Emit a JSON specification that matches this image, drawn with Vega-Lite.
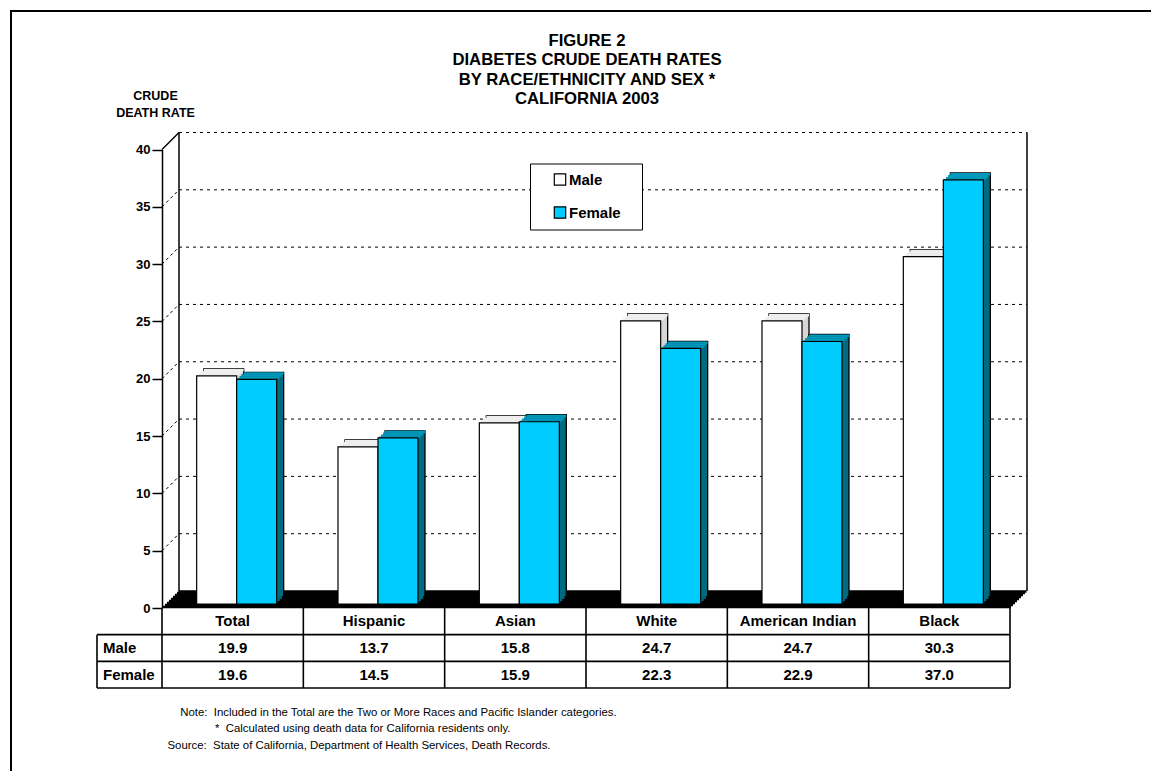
{
  "$schema": "https://vega.github.io/schema/vega-lite/v6.json",
  "width": 1160,
  "height": 780,
  "autosize": "none",
  "padding": {"left": 11, "top": 11, "right": 0, "bottom": 0},
  "background": "white",
  "config": {
    "font": "Liberation Sans",
    "view": {"stroke": "black", "strokeWidth": 2},
    "text": {"color": "black"}
  },
  "title": {
    "text": ["FIGURE 2", "DIABETES CRUDE DEATH RATES", "BY RACE/ETHNICITY AND SEX *", "CALIFORNIA 2003"],
    "font": "Liberation Sans",
    "fontSize": 16.7,
    "fontWeight": "bold",
    "color": "black",
    "anchor": "middle",
    "frame": "group",
    "lineHeight": 19.5,
    "offset": -97,
    "dx": -4
  },
  "datasets": {
    "main": [
      {"race": "Total", "male": 19.9, "female": 19.6},
      {"race": "Hispanic", "male": 13.7, "female": 14.5},
      {"race": "Asian", "male": 15.8, "female": 15.9},
      {"race": "White", "male": 24.7, "female": 22.3},
      {"race": "American Indian", "male": 24.7, "female": 22.9},
      {"race": "Black", "male": 30.3, "female": 37.0}
    ],
    "grid": [{"v": 5}, {"v": 10}, {"v": 15}, {"v": 20}, {"v": 25}, {"v": 30}, {"v": 35}, {"v": 40}],
    "rows": [{"row": "Male"}, {"row": "Female"}],
    "one": [{}]
  },
  "data": {"name": "main"},
  "resolve": {"scale": {"y": "independent"}},
  "layer": [
    {
      "layer": [
        {
          "data": {"name": "grid"},
          "mark": {"type": "rule", "stroke": "black", "strokeWidth": 1, "strokeDash": [3, 4], "xOffset": 17, "x2Offset": 17, "yOffset": -17},
          "encoding": {
            "x": {
              "datum": "Total", "type": "nominal", "bandPosition": 0,
              "scale": {"type": "band", "domain": ["Total", "Hispanic", "Asian", "White", "American Indian", "Black"], "range": [151, 999], "paddingInner": 0, "paddingOuter": 0},
              "axis": {
                "orient": "bottom", "labels": false, "ticks": false, "domain": false, "grid": false,
                "title": [
                  "\u200b\u00a0\u00a0\u00a0\u00a0Note:\u00a0\u00a0Included in the Total are the Two or More Races and Pacific Islander categories.",
                  "\u200b\u00a0\u00a0\u00a0\u00a0\u00a0\u00a0\u00a0\u00a0\u00a0\u00a0\u00a0\u00a0\u00a0\u00a0\u00a0*\u00a0\u00a0Calculated using death data for California residents only.",
                  "Source:\u00a0\u00a0State of California, Department of Health Services, Death Records."
                ],
                "titleX": 156, "titleY": -75.3, "titleAlign": "left", "titleAnchor": "start", "titleBaseline": "alphabetic",
                "titleFont": "Liberation Sans", "titleFontSize": 11.4, "titleFontWeight": "normal", "titleColor": "black", "titleLineHeight": 16.3
              }
            },
            "x2": {"datum": "Black", "bandPosition": 1},
            "y": {
              "field": "v", "type": "quantitative",
              "scale": {"domain": [0, 40], "range": [597, 138.5], "nice": false, "zero": true},
              "axis": {
                "orient": "left", "offset": -151, "values": [0, 5, 10, 15, 20, 25, 30, 35, 40], "grid": false,
                "domainColor": "black", "domainWidth": 1.5, "tickColor": "black", "tickWidth": 1.5, "tickSize": 10,
                "labelFont": "Liberation Sans", "labelFontSize": 13, "labelFontWeight": "bold", "labelColor": "black", "labelPadding": 2, "labelOverlap": false,
                "title": ["CRUDE", "DEATH RATE"], "titleAngle": 0, "titleAlign": "center", "titleBaseline": "alphabetic",
                "titleX": -7, "titleY": 88.5, "titleFont": "Liberation Sans", "titleFontSize": 12.5, "titleFontWeight": "bold", "titleColor": "black", "titleLineHeight": 17
              }
            }
          }
        },
        {
          "data": {"name": "grid"},
          "transform": [{"filter": "datum.v < 40"}],
          "mark": {"type": "rule", "stroke": "black", "strokeWidth": 1, "strokeDash": [3, 3], "x2Offset": 17, "y2Offset": -17},
          "encoding": {
            "x": {"datum": "Total", "type": "nominal", "bandPosition": 0},
            "x2": {"datum": "Total", "bandPosition": 0},
            "y": {"field": "v", "type": "quantitative"},
            "y2": {"field": "v"}
          }
        },
        {
          "data": {"name": "one"},
          "mark": {"type": "rule", "stroke": "black", "strokeWidth": 1.5, "x2Offset": 17, "y2Offset": -17},
          "encoding": {
            "x": {"datum": "Total", "type": "nominal", "bandPosition": 0},
            "x2": {"datum": "Total", "bandPosition": 0},
            "y": {"datum": 40, "type": "quantitative"},
            "y2": {"datum": 40}
          }
        },
        {
          "data": {"name": "one"},
          "mark": {"type": "rule", "stroke": "black", "strokeWidth": 1.5, "xOffset": 17, "yOffset": -17, "y2Offset": -17},
          "encoding": {
            "x": {"datum": "Total", "type": "nominal", "bandPosition": 0},
            "y": {"datum": 0, "type": "quantitative"},
            "y2": {"datum": 40}
          }
        },
        {
          "data": {"name": "one"},
          "mark": {"type": "rule", "stroke": "black", "strokeWidth": 1.5, "xOffset": 17, "yOffset": -17, "y2Offset": -17},
          "encoding": {
            "x": {"datum": "Black", "type": "nominal", "bandPosition": 1},
            "y": {"datum": 0, "type": "quantitative"},
            "y2": {"datum": 40}
          }
        },
        {"data": {"name": "one"}, "mark": {"type": "rule", "stroke": "black", "strokeWidth": 2.4, "xOffset": 1, "x2Offset": 1, "yOffset": -1},
          "encoding": {"x": {"datum": "Total", "type": "nominal", "bandPosition": 0}, "x2": {"datum": "Black", "bandPosition": 1}, "y": {"datum": 0, "type": "quantitative"}}},
        {"data": {"name": "one"}, "mark": {"type": "rule", "stroke": "black", "strokeWidth": 2.4, "xOffset": 3, "x2Offset": 3, "yOffset": -3},
          "encoding": {"x": {"datum": "Total", "type": "nominal", "bandPosition": 0}, "x2": {"datum": "Black", "bandPosition": 1}, "y": {"datum": 0, "type": "quantitative"}}},
        {"data": {"name": "one"}, "mark": {"type": "rule", "stroke": "black", "strokeWidth": 2.4, "xOffset": 5, "x2Offset": 5, "yOffset": -5},
          "encoding": {"x": {"datum": "Total", "type": "nominal", "bandPosition": 0}, "x2": {"datum": "Black", "bandPosition": 1}, "y": {"datum": 0, "type": "quantitative"}}},
        {"data": {"name": "one"}, "mark": {"type": "rule", "stroke": "black", "strokeWidth": 2.4, "xOffset": 7, "x2Offset": 7, "yOffset": -7},
          "encoding": {"x": {"datum": "Total", "type": "nominal", "bandPosition": 0}, "x2": {"datum": "Black", "bandPosition": 1}, "y": {"datum": 0, "type": "quantitative"}}},
        {"data": {"name": "one"}, "mark": {"type": "rule", "stroke": "black", "strokeWidth": 2.4, "xOffset": 9, "x2Offset": 9, "yOffset": -9},
          "encoding": {"x": {"datum": "Total", "type": "nominal", "bandPosition": 0}, "x2": {"datum": "Black", "bandPosition": 1}, "y": {"datum": 0, "type": "quantitative"}}},
        {"data": {"name": "one"}, "mark": {"type": "rule", "stroke": "black", "strokeWidth": 2.4, "xOffset": 11, "x2Offset": 11, "yOffset": -11},
          "encoding": {"x": {"datum": "Total", "type": "nominal", "bandPosition": 0}, "x2": {"datum": "Black", "bandPosition": 1}, "y": {"datum": 0, "type": "quantitative"}}},
        {"data": {"name": "one"}, "mark": {"type": "rule", "stroke": "black", "strokeWidth": 2.4, "xOffset": 13, "x2Offset": 13, "yOffset": -13},
          "encoding": {"x": {"datum": "Total", "type": "nominal", "bandPosition": 0}, "x2": {"datum": "Black", "bandPosition": 1}, "y": {"datum": 0, "type": "quantitative"}}},
        {"data": {"name": "one"}, "mark": {"type": "rule", "stroke": "black", "strokeWidth": 2.4, "xOffset": 15, "x2Offset": 15, "yOffset": -15},
          "encoding": {"x": {"datum": "Total", "type": "nominal", "bandPosition": 0}, "x2": {"datum": "Black", "bandPosition": 1}, "y": {"datum": 0, "type": "quantitative"}}},
        {"data": {"name": "one"}, "mark": {"type": "rule", "stroke": "black", "strokeWidth": 2.4, "xOffset": 16.5, "x2Offset": 16.5, "yOffset": -16.5},
          "encoding": {"x": {"datum": "Total", "type": "nominal", "bandPosition": 0}, "x2": {"datum": "Black", "bandPosition": 1}, "y": {"datum": 0, "type": "quantitative"}}},

        {"mark": {"type": "bar", "width": 40, "xOffset": -9, "yOffset": -11, "y2Offset": -11, "fill": "#D6D6D6", "stroke": "black", "strokeWidth": 1.3},
          "encoding": {"x": {"field": "race", "type": "nominal"}, "y": {"field": "male", "type": "quantitative"}, "y2": {"datum": 0}}},
        {"mark": {"type": "bar", "width": 40, "xOffset": -9, "yOffset": -11, "y2Offset": -8.5, "fill": "#EEEEEE"},
          "encoding": {"x": {"field": "race", "type": "nominal"}, "y": {"field": "male", "type": "quantitative"}, "y2": {"field": "male"}}},
        {"mark": {"type": "bar", "width": 40, "xOffset": -11, "yOffset": -9, "y2Offset": -9, "fill": "#D6D6D6"},
          "encoding": {"x": {"field": "race", "type": "nominal"}, "y": {"field": "male", "type": "quantitative"}, "y2": {"datum": 0}}},
        {"mark": {"type": "bar", "width": 40, "xOffset": -11, "yOffset": -9, "y2Offset": -6.5, "fill": "#EEEEEE"},
          "encoding": {"x": {"field": "race", "type": "nominal"}, "y": {"field": "male", "type": "quantitative"}, "y2": {"field": "male"}}},
        {"mark": {"type": "bar", "width": 40, "xOffset": -13, "yOffset": -7, "y2Offset": -7, "fill": "#D6D6D6"},
          "encoding": {"x": {"field": "race", "type": "nominal"}, "y": {"field": "male", "type": "quantitative"}, "y2": {"datum": 0}}},
        {"mark": {"type": "bar", "width": 40, "xOffset": -13, "yOffset": -7, "y2Offset": -4.5, "fill": "#EEEEEE"},
          "encoding": {"x": {"field": "race", "type": "nominal"}, "y": {"field": "male", "type": "quantitative"}, "y2": {"field": "male"}}},
        {"mark": {"type": "bar", "width": 40, "xOffset": -15, "yOffset": -5, "y2Offset": -5, "fill": "#D6D6D6"},
          "encoding": {"x": {"field": "race", "type": "nominal"}, "y": {"field": "male", "type": "quantitative"}, "y2": {"datum": 0}}},
        {"mark": {"type": "bar", "width": 40, "xOffset": -15, "yOffset": -5, "y2Offset": -2.5, "fill": "#EEEEEE"},
          "encoding": {"x": {"field": "race", "type": "nominal"}, "y": {"field": "male", "type": "quantitative"}, "y2": {"field": "male"}}},
        {"mark": {"type": "bar", "width": 40, "xOffset": -16, "yOffset": -4, "y2Offset": -4, "stroke": "black", "strokeWidth": 1.2},
          "encoding": {
            "x": {"field": "race", "type": "nominal"},
            "y": {"field": "male", "type": "quantitative"},
            "y2": {"datum": 0},
            "color": {
              "datum": "Male", "type": "nominal",
              "scale": {"domain": ["Male", "Female"], "range": ["#FFFFFF", "#00CCFF"]},
              "legend": {
                "orient": "none", "legendX": 519, "legendY": 152.5, "title": null,
                "fillColor": "white", "strokeColor": "black", "padding": 8.5,
                "symbolType": "square", "symbolSize": 130, "symbolStrokeColor": "black", "symbolStrokeWidth": 1.2, "symbolOffset": 14,
                "labelFont": "Liberation Sans", "labelFontSize": 15, "labelFontWeight": "bold", "labelColor": "black", "labelOffset": 1.5,
                "rowPadding": 16,
                "labelExpr": "datum.label + '\u00a0\u00a0\u00a0\u200b'"
              }
            }
          }
        },

        {"mark": {"type": "bar", "width": 40, "xOffset": 31, "yOffset": -11, "y2Offset": -11, "fill": "#006A80", "stroke": "black", "strokeWidth": 1.3},
          "encoding": {"x": {"field": "race", "type": "nominal"}, "y": {"field": "female", "type": "quantitative"}, "y2": {"datum": 0}}},
        {"mark": {"type": "bar", "width": 40, "xOffset": 31, "yOffset": -11, "y2Offset": -8.5, "fill": "#0099BB"},
          "encoding": {"x": {"field": "race", "type": "nominal"}, "y": {"field": "female", "type": "quantitative"}, "y2": {"field": "female"}}},
        {"mark": {"type": "bar", "width": 40, "xOffset": 29, "yOffset": -9, "y2Offset": -9, "fill": "#006A80"},
          "encoding": {"x": {"field": "race", "type": "nominal"}, "y": {"field": "female", "type": "quantitative"}, "y2": {"datum": 0}}},
        {"mark": {"type": "bar", "width": 40, "xOffset": 29, "yOffset": -9, "y2Offset": -6.5, "fill": "#0099BB"},
          "encoding": {"x": {"field": "race", "type": "nominal"}, "y": {"field": "female", "type": "quantitative"}, "y2": {"field": "female"}}},
        {"mark": {"type": "bar", "width": 40, "xOffset": 27, "yOffset": -7, "y2Offset": -7, "fill": "#006A80"},
          "encoding": {"x": {"field": "race", "type": "nominal"}, "y": {"field": "female", "type": "quantitative"}, "y2": {"datum": 0}}},
        {"mark": {"type": "bar", "width": 40, "xOffset": 27, "yOffset": -7, "y2Offset": -4.5, "fill": "#0099BB"},
          "encoding": {"x": {"field": "race", "type": "nominal"}, "y": {"field": "female", "type": "quantitative"}, "y2": {"field": "female"}}},
        {"mark": {"type": "bar", "width": 40, "xOffset": 25, "yOffset": -5, "y2Offset": -5, "fill": "#006A80"},
          "encoding": {"x": {"field": "race", "type": "nominal"}, "y": {"field": "female", "type": "quantitative"}, "y2": {"datum": 0}}},
        {"mark": {"type": "bar", "width": 40, "xOffset": 25, "yOffset": -5, "y2Offset": -2.5, "fill": "#0099BB"},
          "encoding": {"x": {"field": "race", "type": "nominal"}, "y": {"field": "female", "type": "quantitative"}, "y2": {"field": "female"}}},
        {"mark": {"type": "bar", "width": 40, "xOffset": 24, "yOffset": -4, "y2Offset": -4, "stroke": "black", "strokeWidth": 1.2},
          "encoding": {
            "x": {"field": "race", "type": "nominal"},
            "y": {"field": "female", "type": "quantitative"},
            "y2": {"datum": 0},
            "color": {"datum": "Female", "type": "nominal"}
          }
        }
      ]
    },
    {
      "layer": [
        {
          "mark": {"type": "text", "fontSize": 15, "fontWeight": "bold", "baseline": "middle", "align": "center"},
          "encoding": {
            "x": {"field": "race", "type": "nominal"},
            "y": {"datum": "header", "type": "nominal",
              "scale": {"type": "band", "domain": ["header", "Male", "Female"], "range": [597, 677], "paddingInner": 0, "paddingOuter": 0},
              "axis": null},
            "text": {"field": "race", "type": "nominal"}
          }
        },
        {
          "mark": {"type": "text", "fontSize": 15, "fontWeight": "bold", "baseline": "middle", "align": "center"},
          "encoding": {
            "x": {"field": "race", "type": "nominal"},
            "y": {"datum": "Male", "type": "nominal", "axis": null},
            "text": {"field": "male", "type": "quantitative", "format": ".1f"}
          }
        },
        {
          "mark": {"type": "text", "fontSize": 15, "fontWeight": "bold", "baseline": "middle", "align": "center"},
          "encoding": {
            "x": {"field": "race", "type": "nominal"},
            "y": {"datum": "Female", "type": "nominal", "axis": null},
            "text": {"field": "female", "type": "quantitative", "format": ".1f"}
          }
        },
        {
          "data": {"name": "rows"},
          "mark": {"type": "text", "fontSize": 15, "fontWeight": "bold", "baseline": "middle", "align": "left", "xOffset": -59},
          "encoding": {
            "x": {"datum": "Total", "type": "nominal", "bandPosition": 0},
            "y": {"field": "row", "type": "nominal", "axis": null},
            "text": {"field": "row", "type": "nominal"}
          }
        },
        {
          "mark": {"type": "rule", "stroke": "black", "strokeWidth": 1.6},
          "encoding": {
            "x": {"field": "race", "type": "nominal", "bandPosition": 0},
            "y": {"datum": "header", "type": "nominal", "bandPosition": 0, "axis": null},
            "y2": {"datum": "Female", "bandPosition": 1}
          }
        },
        {
          "data": {"name": "one"},
          "mark": {"type": "rule", "stroke": "black", "strokeWidth": 1.6},
          "encoding": {
            "x": {"datum": "Black", "type": "nominal", "bandPosition": 1},
            "y": {"datum": "header", "type": "nominal", "bandPosition": 0, "axis": null},
            "y2": {"datum": "Female", "bandPosition": 1}
          }
        },
        {
          "data": {"name": "one"},
          "mark": {"type": "rule", "stroke": "black", "strokeWidth": 1.6, "xOffset": -65},
          "encoding": {
            "x": {"datum": "Total", "type": "nominal", "bandPosition": 0},
            "y": {"datum": "Male", "type": "nominal", "bandPosition": 0, "axis": null},
            "y2": {"datum": "Female", "bandPosition": 1}
          }
        },
        {
          "data": {"name": "rows"},
          "mark": {"type": "rule", "stroke": "black", "strokeWidth": 1.6, "xOffset": -65},
          "encoding": {
            "x": {"datum": "Total", "type": "nominal", "bandPosition": 0},
            "x2": {"datum": "Black", "bandPosition": 1},
            "y": {"field": "row", "type": "nominal", "bandPosition": 0, "axis": null}
          }
        },
        {
          "data": {"name": "one"},
          "mark": {"type": "rule", "stroke": "black", "strokeWidth": 1.6, "xOffset": -65},
          "encoding": {
            "x": {"datum": "Total", "type": "nominal", "bandPosition": 0},
            "x2": {"datum": "Black", "bandPosition": 1},
            "y": {"datum": "Female", "type": "nominal", "bandPosition": 1, "axis": null}
          }
        }
      ]
    }
  ]
}
